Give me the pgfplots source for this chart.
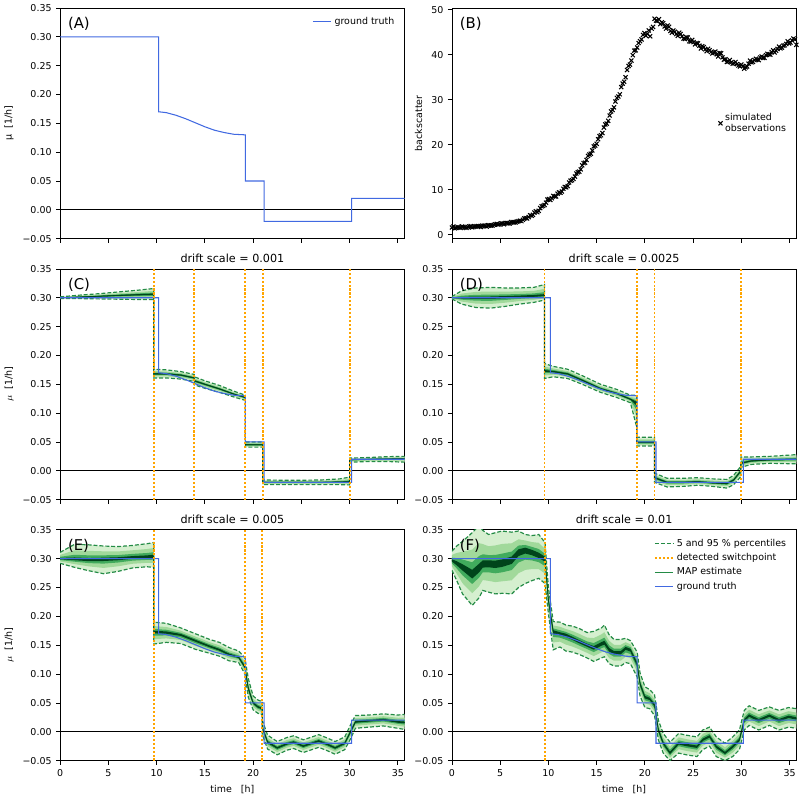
\documentclass[border=0pt]{standalone}
\usepackage{fontspec}
\setmainfont{DejaVu Sans}
\usepackage{pgfplots}
\usepackage{pgfplotstable}
\pgfplotsset{compat=1.18}
\usepgfplotslibrary{groupplots,fillbetween}

\definecolor{gtblue}{RGB}{65,105,225}
\definecolor{sporange}{RGB}{255,165,0}
\definecolor{gA}{HTML}{D5EFCF}
\definecolor{gB}{HTML}{A1D99B}
\definecolor{gM}{HTML}{41AB5D}
\definecolor{gC}{HTML}{238B45}
\definecolor{gD}{HTML}{00441B}

\newcommand{\sz}{\fontsize{7.2}{8.6}\selectfont}

% ground truth growth rate
\pgfplotstableread{
x y
0 0.30
10.2 0.30
10.2 0.17
11 0.1685
12 0.164
13 0.158
14 0.151
15 0.144
16 0.138
17 0.134
18 0.131
19.2 0.130
19.2 0.05
21.15 0.05
21.15 -0.02
30.2 -0.02
30.2 0.02
35.7 0.02
}\truth

% simulated backscatter observations
\pgfplotstableread{
x y
0.0 1.6
0.3 1.4
0.6 1.7
0.9 1.5
1.2 1.7
1.5 1.5
1.8 1.8
2.1 1.6
2.4 1.8
2.7 1.9
3.0 1.7
3.3 2.0
3.6 1.8
3.9 2.1
4.2 2.0
4.5 2.3
4.8 2.2
5.1 2.5
5.4 2.3
5.7 2.6
6.0 2.5
6.3 2.8
6.6 2.7
6.9 3.0
7.2 3.0
7.5 3.6
7.8 3.6
8.1 4.3
8.4 4.4
8.7 5.2
9.0 5.3
9.3 6.3
9.6 6.6
9.9 7.8
10.2 7.7
10.5 8.6
10.8 8.5
11.1 9.4
11.4 9.6
11.7 10.6
12.0 10.8
12.3 12.0
12.6 12.4
12.9 13.6
13.2 14.0
13.5 15.4
13.8 16.0
14.1 17.5
14.4 18.0
14.7 19.6
15.0 20.2
15.3 21.9
15.6 22.6
15.9 24.5
16.2 25.3
16.5 27.4
16.8 28.3
17.1 30.4
17.4 31.2
17.7 33.6
18.0 35.0
18.3 37.5
18.6 38.7
18.9 40.9
19.2 41.6
19.5 43.0
19.8 44.4
20.1 44.2
20.4 45.4
20.7 45.8
21.0 48.0
21.3 47.5
21.6 46.8
21.9 47.0
22.2 45.8
22.5 46.2
22.8 44.9
23.1 45.1
23.4 44.2
23.7 44.6
24.0 43.6
24.3 43.9
24.6 43.0
24.9 43.3
25.2 42.3
25.5 42.5
25.8 41.4
26.1 41.7
26.4 40.8
26.7 41.0
27.0 40.3
27.3 40.7
27.6 39.6
27.9 40.3
28.2 38.9
28.5 38.4
28.8 38.8
29.1 38.0
29.4 38.4
29.7 37.6
30.0 37.8
30.3 36.9
30.6 37.4
30.9 38.7
31.2 38.4
31.5 39.1
31.8 38.8
32.1 39.6
32.4 39.3
32.7 40.2
33.0 40.0
33.3 41.0
33.6 40.9
33.9 41.8
34.2 41.6
34.5 42.1
34.8 43.0
35.1 42.7
35.4 43.6
35.7 42.2
}\obs

\pgfplotstableread{
x y
0.15 1.8
0.45 1.5
0.75 1.6
1.05 1.8
1.35 1.6
1.65 1.7
1.95 1.9
2.25 1.7
2.55 1.9
2.85 1.8
3.15 2.0
3.45 1.9
3.75 2.1
4.05 2.0
4.35 2.2
4.65 2.4
4.95 2.3
5.25 2.5
5.55 2.6
5.85 2.5
6.15 2.8
6.45 2.7
6.75 2.9
7.05 3.1
7.35 3.3
7.65 3.7
7.95 3.9
8.25 4.2
8.55 4.9
8.85 5.0
9.15 5.9
9.45 6.4
9.75 7.1
10.05 7.9
10.35 8.1
10.65 8.5
10.95 9.1
11.25 9.3
11.55 10.2
11.85 10.5
12.15 11.6
12.45 12.1
12.75 12.9
13.05 13.9
13.35 14.5
13.65 15.9
13.95 16.6
14.25 17.8
14.55 18.7
14.85 19.8
15.15 21.2
15.45 22.1
15.75 23.8
16.05 24.7
16.35 26.5
16.65 27.7
16.95 29.6
17.25 30.7
17.55 32.8
17.85 34.0
18.15 36.6
18.45 37.8
18.75 39.9
19.05 41.0
19.35 42.6
19.65 43.4
19.95 44.8
20.25 44.6
20.55 44.1
20.85 46.2
21.15 47.6
21.45 47.9
21.75 47.2
22.05 46.3
22.35 46.5
22.65 45.3
22.95 45.4
23.25 44.6
23.55 44.9
23.85 44.1
24.15 43.5
24.45 43.8
24.75 42.9
25.05 42.8
25.35 42.6
25.65 42.0
25.95 41.9
26.25 41.2
26.55 41.3
26.85 40.6
27.15 40.5
27.45 40.1
27.75 40.4
28.05 39.4
28.35 39.0
28.65 38.5
28.95 38.3
29.25 38.1
29.55 37.9
29.85 37.4
30.15 37.5
30.45 37.2
30.75 38.0
31.05 38.3
31.35 38.8
31.65 38.9
31.95 39.4
32.25 39.3
32.55 39.9
32.85 40.1
33.15 40.6
33.45 40.5
33.75 41.3
34.05 41.4
34.35 42.0
34.65 42.4
34.95 42.5
35.25 43.2
35.55 43.4
}\obsb

% posterior: 5 % percentile, MAP, 95 % percentile
\pgfplotstableread{
x lo mid hi
0 0.2985 0.300 0.3015
2 0.2985 0.3013 0.3045
4 0.298 0.3026 0.307
6 0.2975 0.304 0.310
8 0.297 0.3052 0.313
9.7 0.297 0.306 0.316
9.7 0.161 0.168 0.176
11 0.161 0.168 0.175
12.5 0.159 0.166 0.172
13.9 0.155 0.161 0.167
13.9 0.149 0.156 0.163
15 0.143 0.150 0.156
16.5 0.136 0.142 0.148
18 0.128 0.133 0.138
19.2 0.122 0.127 0.131
19.2 0.041 0.045 0.050
21.0 0.041 0.045 0.050
21.0 -0.024 -0.020 -0.016
24 -0.024 -0.020 -0.0165
27 -0.024 -0.020 -0.016
29 -0.024 -0.0195 -0.014
30.0 -0.0245 -0.019 -0.011
30.0 0.015 0.019 0.022
32 0.016 0.020 0.023
34 0.016 0.0205 0.0245
35.7 0.015 0.021 0.025
}\postC

\pgfplotstableread{
x lo mid hi
0 0.298 0.300 0.302
1 0.289 0.300 0.312
2.5 0.283 0.300 0.317
4 0.282 0.300 0.318
5.5 0.285 0.301 0.317
7 0.289 0.302 0.317
8.5 0.292 0.303 0.318
9.6 0.296 0.304 0.323
9.6 0.160 0.173 0.186
10.5 0.163 0.172 0.181
12 0.160 0.168 0.176
13.5 0.150 0.157 0.165
15.4 0.136 0.1425 0.150
17.1 0.127 0.134 0.141
18.5 0.118 0.124 0.131
19.15 0.076 0.118 0.131
19.15 0.043 0.049 0.058
21.0 0.043 0.049 0.058
21.0 -0.020 -0.012 -0.004
22.3 -0.028 -0.020 -0.013
24 -0.027 -0.020 -0.013
25.5 -0.025 -0.019 -0.012
27 -0.027 -0.021 -0.014
28.5 -0.030 -0.022 -0.015
29.2 -0.024 -0.016 -0.008
29.95 -0.010 0.000 0.008
29.95 0.006 0.013 0.024
31 0.011 0.017 0.024
33 0.013 0.019 0.025
35.7 0.012 0.020 0.028
}\postD

\pgfplotstableread{
x lo mid hi
0 0.292 0.300 0.311
1.5 0.285 0.299 0.325
3 0.279 0.298 0.324
4.5 0.274 0.299 0.322
6 0.278 0.300 0.321
7.5 0.284 0.302 0.323
9 0.286 0.303 0.326
9.7 0.285 0.304 0.328
9.7 0.152 0.173 0.190
11 0.155 0.172 0.188
12.5 0.153 0.168 0.180
14 0.143 0.158 0.170
15.5 0.136 0.148 0.160
16.5 0.131 0.142 0.155
17.5 0.123 0.134 0.146
18.5 0.120 0.129 0.140
19.15 0.100 0.112 0.128
19.5 0.060 0.075 0.092
20 0.038 0.050 0.062
20.5 0.032 0.043 0.055
20.95 0.030 0.040 0.052
20.95 -0.005 0.008 0.020
21.5 -0.030 -0.018 -0.006
22.5 -0.040 -0.028 -0.017
23.5 -0.032 -0.021 -0.010
24.2 -0.029 -0.018 -0.007
25.2 -0.036 -0.025 -0.014
26.8 -0.027 -0.016 -0.005
27.7 -0.033 -0.022 -0.011
28.5 -0.039 -0.028 -0.017
29.5 -0.031 -0.020 -0.009
30.1 -0.012 0.000 0.012
30.6 0.006 0.017 0.028
32 0.008 0.019 0.029
33.5 0.010 0.021 0.031
35 0.006 0.017 0.029
35.7 0.004 0.016 0.030
}\postE

\pgfplotstableread{
x lo mid hi
0 0.280 0.297 0.313
0.5 0.262 0.292 0.322
1.1 0.239 0.285 0.330
2.1 0.219 0.272 0.345
2.8 0.232 0.282 0.357
3.2 0.245 0.290 0.349
3.8 0.242 0.291 0.342
4.5 0.239 0.290 0.345
5.2 0.240 0.292 0.348
6.2 0.239 0.298 0.346
6.9 0.250 0.312 0.348
7.6 0.257 0.316 0.342
8.3 0.262 0.312 0.340
9.0 0.266 0.306 0.342
9.65 0.257 0.300 0.328
10.0 0.205 0.228 0.250
10.5 0.142 0.174 0.191
11.2 0.147 0.170 0.190
11.8 0.140 0.168 0.185
12.5 0.138 0.162 0.183
13.2 0.134 0.156 0.179
14.0 0.128 0.150 0.172
14.7 0.122 0.145 0.174
15.5 0.128 0.152 0.180
15.8 0.130 0.154 0.185
16.3 0.118 0.142 0.168
16.8 0.114 0.137 0.160
17.5 0.114 0.137 0.160
18.0 0.120 0.145 0.162
18.5 0.118 0.142 0.158
19.2 0.095 0.117 0.138
19.5 0.062 0.083 0.102
20.0 0.042 0.060 0.078
20.5 0.040 0.057 0.073
21.0 0.028 0.046 0.064
21.4 -0.014 0.003 0.020
21.9 -0.037 -0.020 -0.003
22.6 -0.050 -0.037 -0.018
23.5 -0.037 -0.020 -0.003
24.3 -0.040 -0.023 -0.006
25.4 -0.043 -0.026 -0.009
26.0 -0.031 -0.014 0.003
26.7 -0.025 -0.008 0.008
27.4 -0.043 -0.026 -0.009
28.3 -0.050 -0.037 -0.020
29.1 -0.043 -0.026 -0.009
29.8 -0.031 -0.014 0.003
30.3 0.003 0.020 0.037
30.8 0.011 0.028 0.045
31.8 0.003 0.020 0.037
32.9 0.011 0.028 0.043
33.9 0.003 0.020 0.037
34.9 0.008 0.026 0.042
35.7 0.006 0.023 0.040
}\postF

% posterior band: outer percentiles, darker inner bands, MAP and dashed percentiles
\newcommand{\inner}[4]{% table, suffix, fraction, colour
  \addplot[draw=none, forget plot, name path=a#2] table[x=x, y expr=\thisrow{mid}-#3*(\thisrow{mid}-\thisrow{lo})]{#1};
  \addplot[draw=none, forget plot, name path=b#2] table[x=x, y expr=\thisrow{mid}+#3*(\thisrow{hi}-\thisrow{mid})]{#1};
  \addplot[#4, forget plot] fill between[of=a#2 and b#2];
}
\newcommand{\band}[2]{%
  \inner{#1}{#2o}{1}{gA}
  \inner{#1}{#2m}{0.6}{gB}
  \inner{#1}{#2i}{0.3}{gM}
  \inner{#1}{#2c}{0.12}{gD}
  \addplot[gC, line width=0.9pt, dash pattern=on 3pt off 1.5pt, forget plot] table[x=x, y=lo]{#1};
  \addplot[gC, line width=0.9pt, dash pattern=on 3pt off 1.5pt, forget plot] table[x=x, y=hi]{#1};
  \addplot[gD, line width=0.6pt, forget plot] table[x=x, y=mid]{#1};
}
\newcommand{\sw}[1]{%
  \addplot[sporange, line width=1.4pt, dash pattern=on 1.6pt off 1.4pt, forget plot] coordinates {(#1,-0.05) (#1,0.35)};
}
\newcommand{\zeroline}{%
  \addplot[black, line width=0.7pt, forget plot] coordinates {(0,0) (35.7,0)};
}
\newcommand{\gt}{%
  \addplot[gtblue, line width=0.8pt, forget plot] table[x=x, y=y]{\truth};
}
\newcommand{\letter}[1]{%
  \node[anchor=west, inner sep=0pt, font=\fontsize{11.3}{13}\selectfont] at (rel axis cs:0.022,0.932) {#1};
}

\pgfplotsset{
  mu/.style={ymin=-0.05, ymax=0.35,
    ytick={-0.05,0,0.05,0.1,0.15,0.2,0.25,0.3,0.35},
    yticklabels={−0.05,0.00,0.05,0.10,0.15,0.20,0.25,0.30,0.35}},
}

\begin{document}
\begin{tikzpicture}
\begin{groupplot}[
  group style={group size=2 by 3, horizontal sep=36pt, vertical sep=23pt,
    xticklabels at=edge bottom},
  scale only axis, width=262pt, height=175.5pt,
  xmin=0, xmax=35.7, xtick={0,5,...,35},
  tick align=outside, xtick pos=bottom, ytick pos=left,
  major tick length=3pt,
  axis line style={line width=0.6pt},
  every tick/.style={black, line width=0.6pt},
  /pgf/number format/assume math mode=true,
  tick label style={font=\sz},
  label style={font=\sz},
  title style={font=\fontsize{8.5}{10}\selectfont, anchor=base, yshift=-1.5pt},
  legend cell align=left,
  legend style={draw=none, fill=none, font=\sz},
]

% (A) ground truth
\nextgroupplot[mu, ylabel={µ\ \ [1/h]},
  legend style={at={(0.99,0.985)}, anchor=north east},
  legend image code/.code={\draw[#1] (0pt,0pt) -- (14pt,0pt);}]
\zeroline
\addplot[gtblue, line width=0.8pt] table[x=x, y=y]{\truth};
\addlegendentry{ground truth}
\letter{(A)}

% (B) observations
\nextgroupplot[ymin=-0.9, ymax=50.4, ytick={0,10,20,30,40,50},
  ylabel={backscatter},
  legend style={at={(0.99,0.5)}, anchor=east, cells={align=left}}]
\addplot[only marks, mark=x, mark size=2.2pt, black, line width=0.8pt] table[x=x, y=y]{\obs};
\addlegendentry{simulated\\observations}
\addplot[only marks, mark=x, mark size=2.2pt, black, line width=0.8pt, forget plot] table[x=x, y=y]{\obsb};
\letter{(B)}

% (C)
\nextgroupplot[mu, ylabel={$\mu$\ \ [1/h]}, title={drift scale = 0.001}]
\band{\postC}{c}
\zeroline
\gt
\sw{9.7}\sw{13.9}\sw{19.2}\sw{21.0}\sw{30.0}
\letter{(C)}

% (D)
\nextgroupplot[mu, title={drift scale = 0.0025}]
\band{\postD}{d}
\zeroline
\gt
\sw{9.6}\sw{19.15}\sw{21.0}\sw{29.95}
\letter{(D)}

% (E)
\nextgroupplot[mu, ylabel={$\mu$\ \ [1/h]}, xlabel={time\ \ \ [h]}, title={drift scale = 0.005}]
\band{\postE}{e}
\zeroline
\gt
\sw{9.7}\sw{19.15}\sw{20.95}
\letter{(E)}

% (F)
\nextgroupplot[mu, xlabel={time\ \ \ [h]}, title={drift scale = 0.01},
  legend style={at={(0.99,0.985)}, anchor=north east},
  legend image code/.code={\draw[#1] (0pt,0pt) -- (14pt,0pt);}]
\band{\postF}{f}
\zeroline
\gt
\sw{9.65}
\letter{(F)}
\addlegendimage{gC, line width=0.9pt, dash pattern=on 3pt off 1.5pt}
\addlegendentry{5 and 95 \% percentiles}
\addlegendimage{sporange, line width=1.4pt, dash pattern=on 1.6pt off 1.4pt}
\addlegendentry{detected switchpoint}
\addlegendimage{gC, line width=0.8pt}
\addlegendentry{MAP estimate}
\addlegendimage{gtblue, line width=0.8pt}
\addlegendentry{ground truth}

\end{groupplot}
\end{tikzpicture}
\end{document}
